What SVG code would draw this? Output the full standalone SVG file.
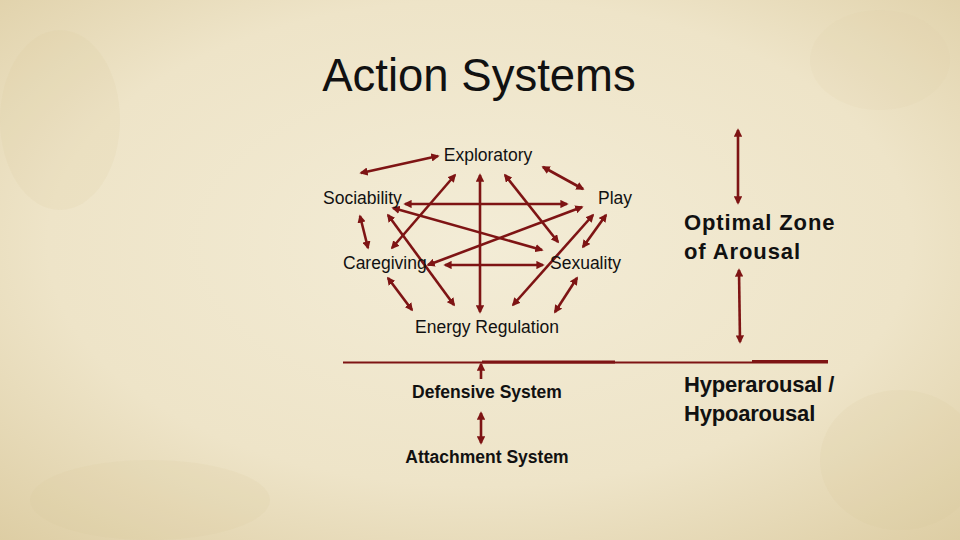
<svg xmlns="http://www.w3.org/2000/svg" width="960" height="540" viewBox="0 0 960 540">
<defs>
<radialGradient id="bg" cx="50%" cy="45%" r="75%">
<stop offset="0" stop-color="#f3ecd6"/>
<stop offset="0.6" stop-color="#eee4c8"/>
<stop offset="1" stop-color="#ddcda3"/>
</radialGradient>
<marker id="ah" viewBox="0 0 10 10" refX="8" refY="5" markerWidth="3.2" markerHeight="3.2" orient="auto-start-reverse" markerUnits="strokeWidth">
<path d="M0,0 L10,5 L0,10 Z" fill="#7e1414"/>
</marker>
<style>
.c line{stroke:#7e1414;stroke-width:2.6;fill:none;marker-start:url(#ah);marker-end:url(#ah)}
.c line.one{marker-start:none}
.c line.bar{marker-start:none;marker-end:none}
text{font-family:"Liberation Sans",Arial,sans-serif;fill:#111}
.lbl{font-size:17.5px}
.b{font-size:17.5px;font-weight:bold}
.big{font-size:22px;font-weight:bold}
</style>
</defs>
<rect width="960" height="540" fill="url(#bg)"/>
<g opacity="0.12">
<ellipse cx="60" cy="120" rx="60" ry="90" fill="#d8c796"/>
<ellipse cx="900" cy="460" rx="80" ry="70" fill="#d8c796"/>
<ellipse cx="150" cy="500" rx="120" ry="40" fill="#d8c796"/>
<ellipse cx="880" cy="60" rx="70" ry="50" fill="#e0d1a6"/>
</g>
<text x="479" y="91" text-anchor="middle" style="font-size:45.5px">Action Systems</text>
<g class="c" id="connectors">
<line x1="361" y1="173" x2="438" y2="156"/>
<line x1="543" y1="167" x2="583" y2="189"/>
<line x1="405" y1="204" x2="567" y2="204"/>
<line x1="455" y1="175" x2="392" y2="248"/>
<line x1="480" y1="175" x2="480" y2="312"/>
<line x1="505" y1="175" x2="558" y2="242"/>
<line x1="393" y1="208" x2="542" y2="250"/>
<line x1="582" y1="207" x2="428" y2="265"/>
<line x1="360" y1="216" x2="368" y2="248"/>
<line x1="388" y1="215" x2="454" y2="305"/>
<line x1="445" y1="265" x2="543" y2="265"/>
<line x1="593" y1="215" x2="513" y2="305"/>
<line x1="606" y1="215" x2="583" y2="247"/>
<line x1="388" y1="278" x2="412" y2="310"/>
<line x1="577" y1="278" x2="555" y2="312"/>
<line x1="738" y1="130" x2="738" y2="203"/>
<line x1="739" y1="270" x2="740" y2="342"/>
<line class="one" x1="481" y1="379" x2="481" y2="364"/>
<line x1="481" y1="413" x2="481" y2="443"/>
<line class="bar" x1="343" y1="362.5" x2="828" y2="362.5" style="stroke-width:2"/>
<line class="bar" x1="482" y1="362" x2="615" y2="362" style="stroke-width:2.8"/>
<line class="bar" x1="752" y1="361.5" x2="828" y2="361.5" style="stroke-width:2.8"/>
</g>
<g id="exploratory"><text class="lbl" x="488" y="161" text-anchor="middle">Exploratory</text></g>
<g id="sociability"><text class="lbl" x="323" y="204">Sociability</text></g>
<g id="play"><text class="lbl" x="598" y="204">Play</text></g>
<g id="caregiving"><text class="lbl" x="343" y="269">Caregiving</text></g>
<g id="sexuality"><text class="lbl" x="550" y="269">Sexuality</text></g>
<g id="energy"><text class="lbl" x="487" y="333" text-anchor="middle">Energy Regulation</text></g>
<g id="optimal"><text class="big" x="684" y="230" style="letter-spacing:0.9px">Optimal Zone</text><text class="big" x="684" y="259" style="letter-spacing:0.9px">of Arousal</text></g>
<g id="hyper"><text class="big" x="684" y="392" style="letter-spacing:-0.2px">Hyperarousal /</text><text class="big" x="684" y="421" style="letter-spacing:-0.2px">Hypoarousal</text></g>
<g id="defensive"><text class="b" x="487" y="398" text-anchor="middle">Defensive System</text></g>
<g id="attachment"><text class="b" x="487" y="463" text-anchor="middle">Attachment System</text></g>
</svg>
